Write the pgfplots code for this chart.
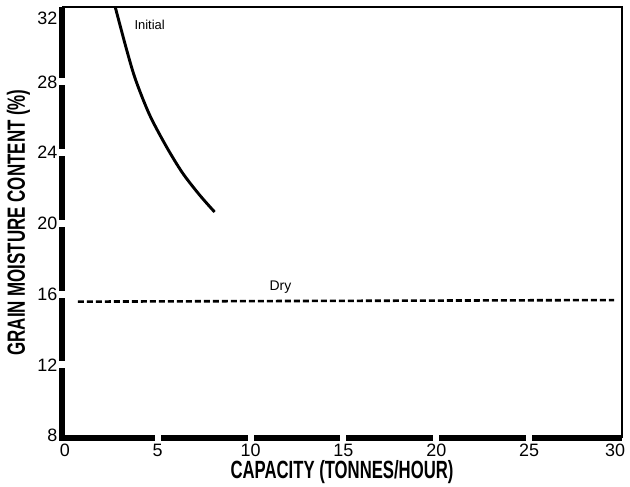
\documentclass[border=0pt]{standalone}
\usepackage{fontspec}
\setmainfont{Liberation Sans}
\usepackage{pgfplots}
\pgfplotsset{compat=1.18}
\begin{document}
\begin{tikzpicture}
\begin{axis}[
  name=ax,
  scale only axis, width=560bp, height=431bp,
  xmin=-0.15, xmax=30, ymin=7.87, ymax=32.24,
  clip=false,
  axis line style={draw=none},
  xtick={0,5,10,15,20,25}, extra x ticks={30},
  extra x tick style={xticklabel style={xshift=-7bp}},
  ytick={8,12,16,20,24,28}, extra y ticks={32},
  extra y tick style={yticklabel style={yshift=-7bp}},
  major tick length=0pt,
  tick label style={font=\fontsize{18}{20}\selectfont, inner sep=0pt},
  xticklabel style={anchor=north, yshift=-5.5bp},
  yticklabel style={anchor=east, xshift=-4.5bp},
  /pgf/number format/assume math mode=true,
  xlabel={\scalebox{0.67}[1]{\fontsize{25}{28}\selectfont\bfseries CAPACITY (TONNES/HOUR)}},
  ylabel={\scalebox{0.68}[1]{\fontsize{25}{28}\selectfont\bfseries GRAIN MOISTURE CONTENT (\%)}},
  xlabel style={at={(rel axis cs:0.5,-0.051)}, anchor=north, inner sep=0pt},
  ylabel style={at={(rel axis cs:-0.0566,0.5)}, anchor=south, inner sep=0pt},
]
\addplot[line width=2.9bp, smooth, tension=0.5, black] coordinates {
  (2.715,32.24) (3.333,29.81) (3.817,28.11) (4.570,26.13) (5.484,24.32) (6.344,22.85) (7.258,21.61) (8.065,20.65)
};
\addplot[line width=2.6bp, dash pattern=on 6bp off 3bp, black] coordinates {
  (0.7,15.58) (29.57,15.67)
};
\addplot[line width=2.4bp, black] coordinates {(-0.15,32.24) (30,32.24) (30,7.87)};
\fill[black] ([yshift=-1.3bp]rel axis cs:0,1) rectangle ([yshift=1.3bp]rel axis cs:1,1);
\fill[black] ([xshift=-1.3bp]rel axis cs:1,0) rectangle ([xshift=1.3bp]rel axis cs:1,1);
\node[font=\fontsize{13}{15}\selectfont] at (axis cs:4.57,31.22) {Initial};
\node[font=\fontsize{14}{16}\selectfont] at (axis cs:11.61,16.41) {Dry};
\draw[line width=6bp, line join=miter, black] (rel axis cs:0,1) -- (rel axis cs:0,0) -- (rel axis cs:1,0);
\pgfplotsinvokeforeach{12,16,20,24,28}{
  \fill[white] (axis cs:-0.15,#1) ++(-3.7bp,-3.5bp) rectangle ++(7.4bp,7bp);
}
\pgfplotsinvokeforeach{5,10,15,20,25}{
  \fill[white] (axis cs:#1,7.87) ++(-3bp,-3.7bp) rectangle ++(6bp,7.4bp);
}
\end{axis}
\pgfresetboundingbox
\path[use as bounding box] ([xshift=-62bp,yshift=-49bp]ax.south west) rectangle ([xshift=8bp,yshift=7bp]ax.north east);
\end{tikzpicture}
\end{document}
